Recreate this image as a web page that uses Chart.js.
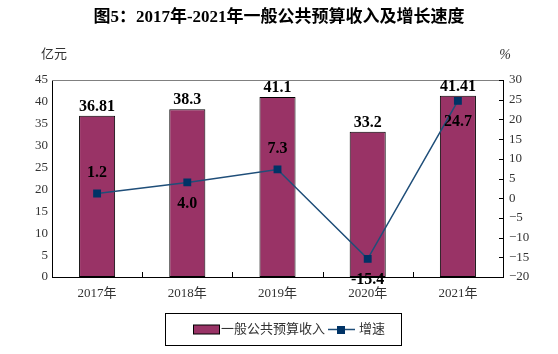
<!DOCTYPE html>
<html>
<head>
<meta charset="utf-8">
<script src="https://cdn.jsdelivr.net/npm/chart.js@4"></script>
<style>
  html, body { margin: 0; padding: 0; background: #fff; }
  #wrap { width: 558px; height: 354px; position: relative; }
</style>
</head>
<body>
<div id="wrap"><canvas id="revenueChart" width="558" height="354"></canvas></div>
<script>
const years = ["2017年", "2018年", "2019年", "2020年", "2021年"];
const revenue = [36.81, 38.3, 41.1, 33.2, 41.41];
const revenueText = ["36.81", "38.3", "41.1", "33.2", "41.41"];
const growth = [1.2, 4.0, 7.3, -15.4, 24.7];
const growthText = ["1.2", "4.0", "7.3", "-15.4", "24.7"];
const growthLabelAbove = [true, false, true, false, false];

const serif = "'Liberation Serif', 'Noto Sans CJK SC', serif";
const barColor = "#993366";
const lineColor = "#1f4e79";

const ctx = document.getElementById("revenueChart").getContext("2d");

// title, axis units, legend, inner ticks and value labels
const decorPlugin = {
  id: "decor",
  afterDraw(chart) {
    const c = chart.ctx;
    const area = chart.chartArea;
    const x = chart.scales.x;
    const y2 = chart.scales.y2;
    c.save();

    c.fillStyle = "#000";
    c.textAlign = "center";
    c.textBaseline = "middle";
    c.font = "bold 17px " + serif;
    c.fillText("图5：2017年-2021年一般公共预算收入及增长速度", 279, 18);

    c.font = "13px " + serif;
    c.fillStyle = "#333";
    c.fillText("亿元", area.left + 2, 55);
    c.font = "italic 14px " + serif;
    c.fillText("%", area.right + 2, 55);

    // top border
    c.strokeStyle = "#808080";
    c.lineWidth = 1;
    c.beginPath();
    c.moveTo(area.left, area.top + 0.5);
    c.lineTo(area.right, area.top + 0.5);
    c.stroke();

    // inner ticks
    c.strokeStyle = "#000";
    c.beginPath();
    for (let i = 1; i < years.length; i++) {
      const px = Math.round((x.getPixelForValue(i - 1) + x.getPixelForValue(i)) / 2) + 0.5;
      c.moveTo(px, area.bottom);
      c.lineTo(px, area.bottom - 5);
    }
    y2.ticks.forEach(t => {
      const py = Math.round(y2.getPixelForValue(t.value)) + 0.5;
      c.moveTo(area.right, py);
      c.lineTo(area.right - 4, py);
    });
    c.stroke();

    // bar labels
    c.fillStyle = "#000";
    c.font = "bold 16px " + serif;
    c.textBaseline = "bottom";
    const bars = chart.getDatasetMeta(1).data;
    bars.forEach((b, i) => {
      c.fillText(revenueText[i], b.x, b.y - 1);
    });

    // growth labels
    c.textBaseline = "middle";
    const pts = chart.getDatasetMeta(0).data;
    pts.forEach((p, i) => {
      const dy = growthLabelAbove[i] ? -21 : 21;
      c.fillText(growthText[i], p.x, p.y + dy);
    });

    // legend
    const lx = 165, ly = 313, lw = 236, lh = 32;
    c.strokeStyle = "#000";
    c.lineWidth = 1;
    c.strokeRect(lx + 0.5, ly + 0.5, lw, lh);
    const my = ly + lh / 2 + 0.5;
    c.fillStyle = barColor;
    c.fillRect(193, my - 4.5, 27, 9);
    c.strokeRect(193.5, my - 4.5, 26, 9);
    c.fillStyle = "#333";
    c.font = "13px " + serif;
    c.textAlign = "left";
    c.fillText("一般公共预算收入", 221, my);
    c.strokeStyle = lineColor;
    c.lineWidth = 1.5;
    c.beginPath();
    c.moveTo(328, my);
    c.lineTo(355, my);
    c.stroke();
    c.fillStyle = "#003366";
    c.fillRect(337, my - 3.5, 8, 8);
    c.fillStyle = "#333";
    c.fillText("增速", 359, my);

    c.restore();
  }
};

const chart = new Chart(ctx, {
  data: {
    labels: years,
    datasets: [
      {
        type: "line",
        label: "增速",
        data: growth,
        yAxisID: "y2",
        borderColor: lineColor,
        borderWidth: 1.5,
        pointStyle: "rect",
        pointRadius: 4.5,
        pointBackgroundColor: "#003366",
        pointBorderColor: "#003366",
        order: 0,
      },
      {
        type: "bar",
        label: "一般公共预算收入",
        data: revenue,
        yAxisID: "y",
        backgroundColor: barColor,
        borderColor: "#000",
        borderWidth: 1,
        borderSkipped: false,
        barPercentage: 0.4,
        categoryPercentage: 1,
        order: 1,
      },
    ],
  },
  options: {
    responsive: false,
    animation: false,
    layout: { padding: { top: 80, left: 0, right: 0, bottom: 0 } },
    plugins: {
      legend: { display: false },
      tooltip: { enabled: false },
    },
    scales: {
      x: {
        grid: { display: false, drawTicks: false },
        border: { color: "#000", width: 1 },
        ticks: { color: "#333", font: { family: serif, size: 13 }, padding: 9 },
        afterFit(scale) { scale.height = 77; },
      },
      y: {
        position: "left",
        min: 0,
        max: 45,
        ticks: { stepSize: 5, color: "#333", font: { family: serif, size: 13 }, padding: 4 },
        grid: { display: false, drawTicks: false },
        border: { color: "#000", width: 1 },
        afterFit(scale) { scale.width = 52; },
      },
      y2: {
        position: "right",
        min: -20,
        max: 30,
        ticks: {
          stepSize: 5,
          color: "#333",
          font: { family: serif, size: 13 },
          padding: 6,
          callback: v => String(v).replace("-", "−"),
        },
        grid: { display: false, drawTicks: false },
        border: { color: "#000", width: 1 },
        afterFit(scale) { scale.width = 55; },
      },
    },
  },
  plugins: [decorPlugin],
});
</script>
</body>
</html>
